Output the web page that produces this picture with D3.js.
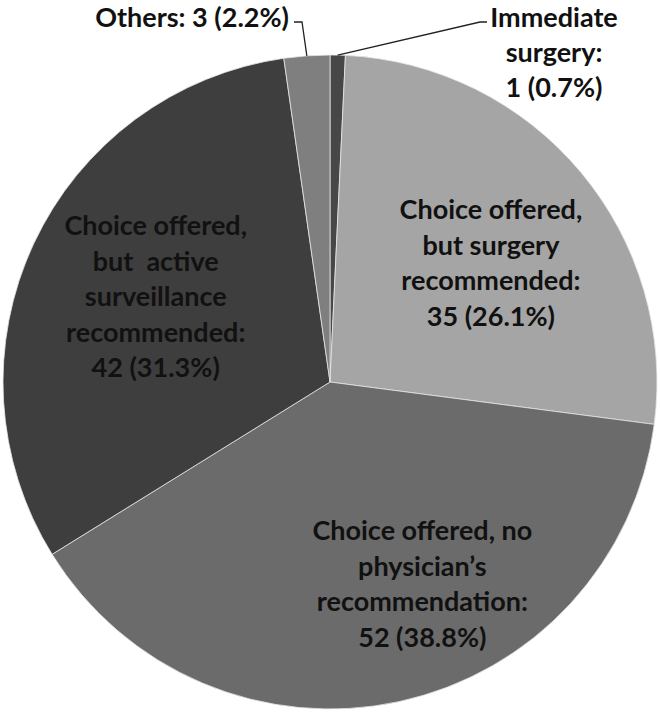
<!DOCTYPE html>
<html>
<head>
<meta charset="utf-8">
<script src="https://cdn.jsdelivr.net/npm/d3@7"></script>
<style>
  body { margin: 0; background: #fff; }
  svg { display: block; }
  .lbl { font-family: Lato, "Open Sans", sans-serif; font-weight: bold; font-size: 27px; fill: #111; white-space: pre; }
</style>
</head>
<body>
<div id="chart"></div>
<script>
// slices, clockwise from 12 o'clock
const categories = ["Immediate surgery", "Choice offered, but surgery recommended",
    "Choice offered, no physician's recommendation",
    "Choice offered, but active surveillance recommended", "Others"];
const counts = [1, 35, 52, 42, 3];
const percents = ["0.7%", "26.1%", "38.8%", "31.3%", "2.2%"];
const labelLines = [
    ["Immediate", "surgery:", "1 (0.7%)"],
    ["Choice offered,", "but surgery", "recommended:", "35 (26.1%)"],
    ["Choice offered, no", "physician\u2019s", "recommendation:", "52 (38.8%)"],
    ["Choice offered,", "but  active", "surveillance", "recommended:", "42 (31.3%)"],
    ["Others: 3 (2.2%)"]
];
const greys = ["#474747", "#a5a5a5", "#6b6b6b", "#3e3e3e", "#7f7f7f"];

const width = 660, height = 713;
const cx = 330, cy = 382, radius = 327;

const svg = d3.select("#chart").append("svg")
    .attr("width", width)
    .attr("height", height);

const g = svg.append("g").attr("transform", "translate(" + cx + "," + cy + ")");

const color = d3.scaleOrdinal().domain(categories).range(greys);

const pie = d3.pie().sort(null).value(d => d.count);
const arc = d3.arc().innerRadius(0).outerRadius(radius);

const rows = categories.map((c, i) => ({name: c, count: counts[i], pct: percents[i], lines: labelLines[i]}));
const arcs = pie(rows);

g.selectAll("path.slice")
    .data(arcs)
    .enter().append("path")
    .attr("class", "slice")
    .attr("d", arc)
    .attr("fill", d => color(d.data.name))
    .attr("stroke", "#e6e6e6")
    .attr("stroke-width", 0.8);

// label placement: inside labels sit on a centroid ring, small ones go outside with leaders
const lineH = 35.5;
const inside = {
    1: {r: 200, shift: 3.5},
    2: {r: 222, shift: -12.4},
    3: {r: 194, shift: 1}
};
arcs.forEach((d, i) => {
    if (!inside[i]) return;
    const mid = (d.startAngle + d.endAngle) / 2 + inside[i].shift * Math.PI / 180;
    const x = Math.sin(mid) * inside[i].r;
    const y = -Math.cos(mid) * inside[i].r;
    const n = d.data.lines.length;
    const t = g.append("text").attr("class", "lbl").attr("text-anchor", "middle");
    d.data.lines.forEach((s, k) => {
        t.append("tspan").attr("x", x).attr("y", y + (k - (n - 1) / 2) * lineH).attr("dy", "0.35em").text(s);
    });
});

// outside labels with leader lines
const edge = (d, frac) => {
    const a = d.startAngle + (d.endAngle - d.startAngle) * frac;
    return [Math.sin(a) * radius, -Math.cos(a) * radius];
};

const imm = arcs[0];
const p0 = edge(imm, 0.5);
g.append("polyline")
    .attr("points", [p0, [150, -360], [157, -360]].map(p => p.join(",")).join(" "))
    .attr("fill", "none").attr("stroke", "#222").attr("stroke-width", 1.3);
const tImm = g.append("text").attr("class", "lbl").attr("text-anchor", "middle");
imm.data.lines.forEach((s, k) => {
    tImm.append("tspan").attr("x", 224).attr("y", -364 + k * 35).attr("dy", "0.35em").text(s);
});

const oth = arcs[4];
const p1 = edge(oth, 0.5);
g.append("polyline")
    .attr("points", [p1, [-28, -360], [-36, -360]].map(p => p.join(",")).join(" "))
    .attr("fill", "none").attr("stroke", "#222").attr("stroke-width", 1.3);
g.append("text").attr("class", "lbl")
    .attr("text-anchor", "end")
    .attr("x", -41).attr("y", -364).attr("dy", "0.35em")
    .text(oth.data.lines[0]);
</script>
</body>
</html>
